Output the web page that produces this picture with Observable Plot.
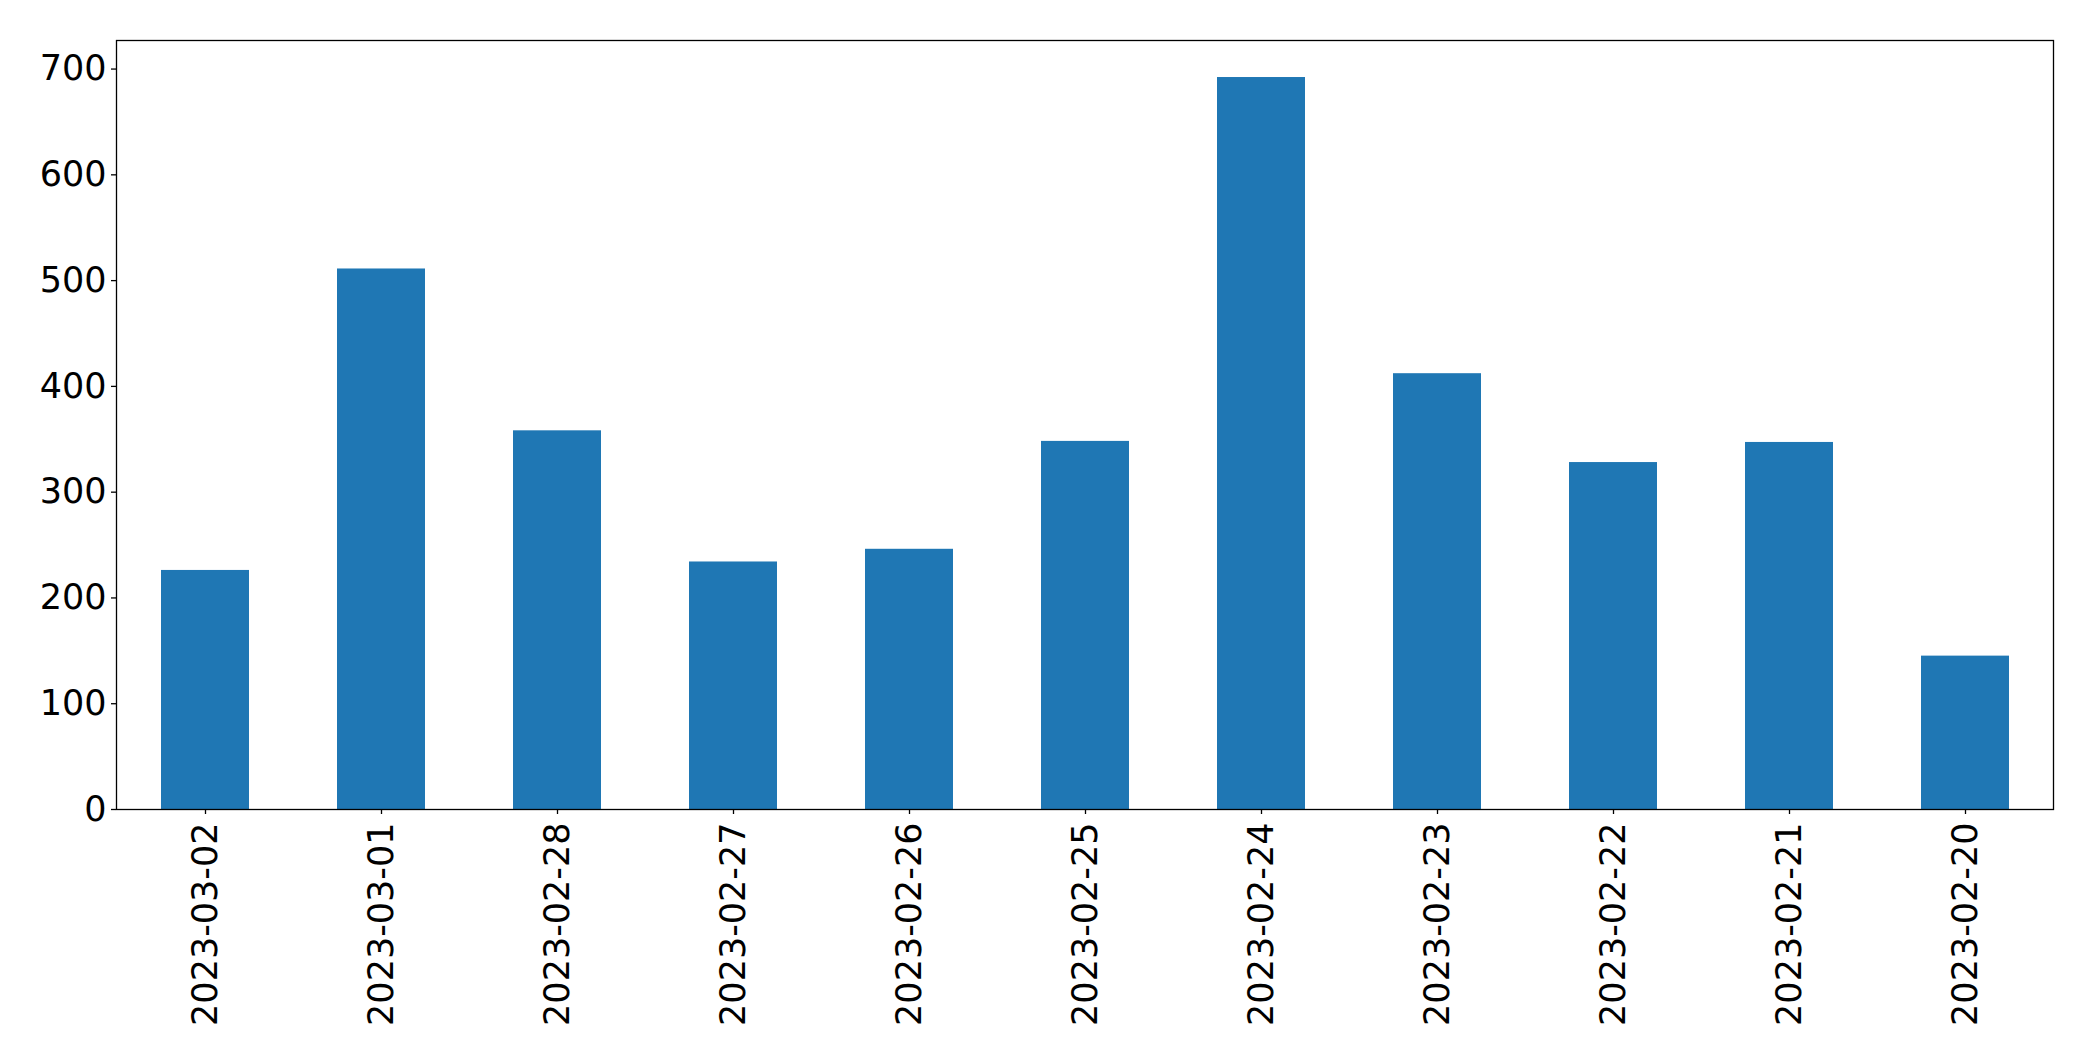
<!DOCTYPE html>
<html>
<head>
<meta charset="utf-8">
<script src="https://cdn.jsdelivr.net/npm/d3@7"></script>
<script src="https://cdn.jsdelivr.net/npm/@observablehq/plot@0.6"></script>
<style>
  html, body { margin: 0; padding: 0; background: #fff; }
  #chart svg { display: block; }
</style>
</head>
<body>
<div id="chart"></div>
<script>
const dates = ["2023-03-02","2023-03-01","2023-02-28","2023-02-27","2023-02-26","2023-02-25","2023-02-24","2023-02-23","2023-02-22","2023-02-21","2023-02-20"];
const counts = [226, 511, 358, 234, 246, 348, 692, 412, 328, 347, 145];
const yTicks = [0, 100, 200, 300, 400, 500, 600, 700];

const data = dates.map((d, i) => ({date: d, value: counts[i]}));

const chart = Plot.plot({
  width: 2093,
  height: 1061,
  marginLeft: 116,
  marginRight: 40,
  marginTop: 40,
  marginBottom: 252,
  style: {fontFamily: "DejaVu Sans", fontSize: "35px", color: "#000", background: "#fff"},
  x: {domain: dates, paddingInner: 0.5, paddingOuter: 0.25, label: null},
  y: {domain: [0, 727], label: null},
  marks: [
    Plot.barY(data, {x: "date", y: "value", fill: "#1f77b4"}),
    Plot.frame({stroke: "#000", strokeWidth: 1.3}),
    Plot.axisY({ticks: yTicks, tickSize: 5, tickPadding: 5, fontSize: 35, label: null, stroke: "#000", strokeWidth: 1.3}),
    Plot.axisX({tickSize: 5, tickPadding: 8, tickRotate: -90, fontSize: 35, label: null, stroke: "#000", strokeWidth: 1.3})
  ]
});
document.getElementById("chart").appendChild(chart);
</script>
</body>
</html>
